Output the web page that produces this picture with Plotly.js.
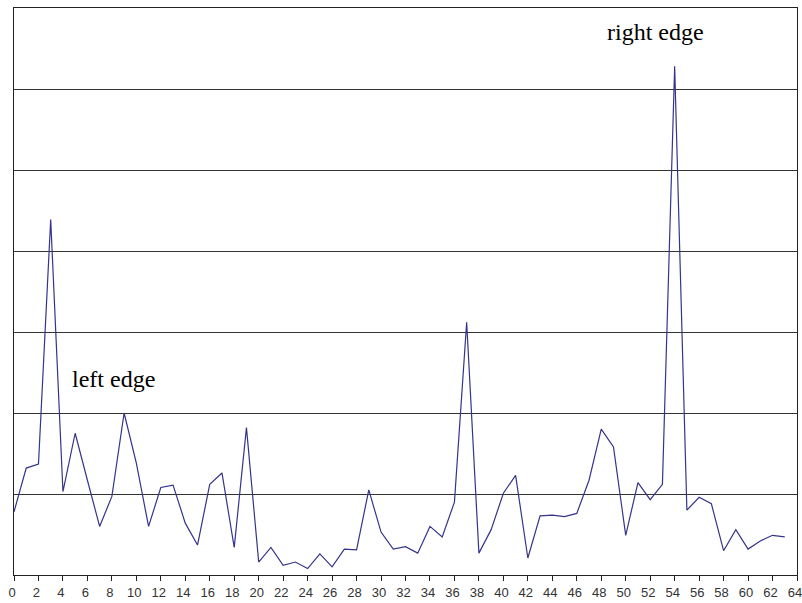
<!DOCTYPE html>
<html>
<head>
<meta charset="utf-8">
<script src="https://cdn.plot.ly/plotly-3.0.1.min.js"></script>
<style>html,body{margin:0;padding:0;background:#fff;}#chart{width:802px;height:603px;}</style>
</head>
<body>
<div id="chart"></div>
<script>
const xValues = [0,1,2,3,4,5,6,7,8,9,10,11,12,13,14,15,16,17,18,19,20,21,22,23,24,25,26,27,28,29,30,31,32,33,34,35,36,37,38,39,40,41,42,43,44,45,46,47,48,49,50,51,52,53,54,55,56,57,58,59,60,61,62,63];
const yValues = [0.78,1.32,1.37,4.39,1.03,1.75,1.17,0.60,0.97,2.00,1.38,0.60,1.08,1.11,0.64,0.37,1.12,1.26,0.34,1.82,0.16,0.34,0.12,0.16,0.08,0.26,0.10,0.32,0.31,1.05,0.53,0.32,0.35,0.27,0.60,0.47,0.90,3.12,0.27,0.56,1.01,1.23,0.21,0.73,0.74,0.72,0.76,1.17,1.80,1.58,0.49,1.14,0.93,1.12,6.28,0.80,0.96,0.88,0.30,0.56,0.32,0.42,0.49,0.47];
const tickValues = [0,2,4,6,8,10,12,14,16,18,20,22,24,26,28,30,32,34,36,38,40,42,44,46,48,50,52,54,56,58,60,62,64];
const tickLabels = ["0","2","4","6","8","10","12","14","16","18","20","22","24","26","28","30","32","34","36","38","40","42","44","46","48","50","52","54","56","58","60","62","64"];
const labels = ["left edge", "right edge"];

const trace = {
  x: xValues, y: yValues, type: 'scatter', mode: 'lines',
  line: {color: '#34348c', width: 1.2},
  hoverinfo: 'skip'
};

const layout = {
  width: 802, height: 603,
  margin: {l: 14, r: 5, t: 8, b: 28, pad: 0},
  paper_bgcolor: '#ffffff', plot_bgcolor: '#ffffff',
  showlegend: false,
  xaxis: {
    range: [0, 64], tickmode: 'array', tickvals: tickValues, ticktext: tickLabels,
    ticks: 'outside', ticklen: 5, tickcolor: '#222', tickwidth: 1,
    ticklabeloverflow: 'allow', ticklabelshift: -2,
    showline: true, linecolor: '#222', linewidth: 1, mirror: true,
    showgrid: false, zeroline: false,
    tickfont: {family: 'Liberation Sans Narrow, Liberation Sans, Arial, sans-serif', size: 13, color: '#333'}
  },
  yaxis: {
    range: [0, 7], dtick: 1, tick0: 0,
    showticklabels: false, ticks: '',
    showline: true, linecolor: '#222', linewidth: 1, mirror: true,
    showgrid: true, gridcolor: '#333', gridwidth: 1, zeroline: false
  },
  annotations: [
    {x: 8.1, y: 2.42, xref: 'x', yref: 'y', text: labels[0], showarrow: false,
     font: {family: 'Liberation Serif, Times New Roman, serif', size: 24, color: '#000'}},
    {x: 52.4, y: 6.70, xref: 'x', yref: 'y', text: labels[1], showarrow: false,
     font: {family: 'Liberation Serif, Times New Roman, serif', size: 24, color: '#000'}}
  ]
};

Plotly.newPlot('chart', [trace], layout, {staticPlot: true, displayModeBar: false});
</script>
</body>
</html>
